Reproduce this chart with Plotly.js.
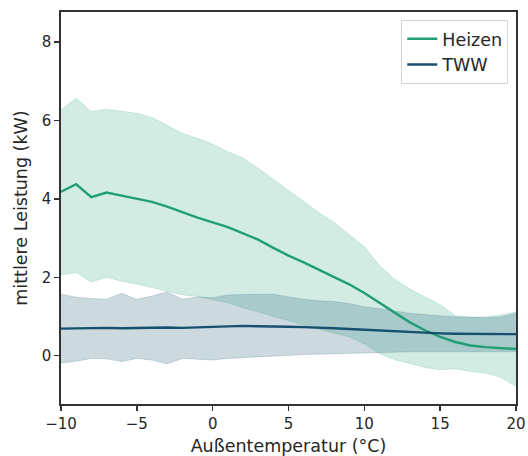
<!DOCTYPE html>
<html>
<head>
<meta charset="utf-8">
<script src="https://cdn.plot.ly/plotly-3.0.1.min.js"></script>
<style>html,body{margin:0;padding:0;background:#fff;}#chart{width:528px;height:456px;}</style>
</head>
<body>
<div id="chart"></div>
<script>
const temps = [-10,-9,-8,-7,-6,-5,-4,-3,-2,-1,0,1,2,3,4,5,6,7,8,9,10,11,12,13,14,15,16,17,18,19,20];
const heizenMean = [4.18,4.37,4.04,4.16,4.08,4.0,3.92,3.8,3.65,3.52,3.4,3.28,3.12,2.96,2.75,2.55,2.38,2.2,2.0,1.82,1.6,1.35,1.08,0.85,0.65,0.48,0.35,0.26,0.22,0.19,0.17];
const heizenUpper = [6.26,6.57,6.22,6.28,6.23,6.18,6.07,5.88,5.67,5.54,5.39,5.2,5.04,4.78,4.5,4.2,3.92,3.65,3.4,3.1,2.78,2.3,1.95,1.7,1.5,1.3,1.02,0.98,0.99,1.04,1.12];
const heizenLower = [2.06,2.12,1.88,2.0,1.9,1.83,1.74,1.64,1.55,1.51,1.43,1.35,1.22,1.12,1.0,0.9,0.78,0.68,0.58,0.48,0.3,0.05,-0.1,-0.2,-0.3,-0.36,-0.33,-0.4,-0.44,-0.55,-0.78];
const twwMean = [0.69,0.70,0.70,0.71,0.70,0.71,0.71,0.72,0.71,0.72,0.73,0.74,0.76,0.75,0.75,0.74,0.73,0.72,0.70,0.68,0.66,0.64,0.62,0.60,0.59,0.57,0.56,0.56,0.55,0.55,0.55];
const twwUpper = [1.57,1.49,1.46,1.44,1.59,1.44,1.52,1.63,1.44,1.50,1.48,1.55,1.56,1.57,1.57,1.50,1.44,1.40,1.38,1.33,1.25,1.20,1.14,1.08,1.05,1.02,0.99,0.98,0.97,0.99,1.08];
const twwLower = [-0.19,-0.14,-0.07,-0.08,-0.15,-0.07,-0.11,-0.21,-0.07,-0.09,-0.11,-0.07,-0.05,-0.03,0.0,0.02,0.03,0.04,0.05,0.07,0.08,0.09,0.1,0.1,0.1,0.1,0.1,0.1,0.1,0.1,0.1];

const heizColor = '#1f9e78';
const twwColor = '#17506f';
const font = 'DejaVu Sans, sans-serif';

const traces = [
  {x: temps, y: heizenUpper, mode: 'lines', line: {width: 0.8, color: 'rgba(31,158,120,0.22)'}, showlegend: false, hoverinfo: 'skip'},
  {x: temps, y: heizenLower, mode: 'lines', line: {width: 0.8, color: 'rgba(31,158,120,0.22)'}, fill: 'tonexty', fillcolor: 'rgba(31,158,120,0.2)', showlegend: false, hoverinfo: 'skip'},
  {x: temps, y: twwUpper, mode: 'lines', line: {width: 0.8, color: 'rgba(23,80,111,0.22)'}, showlegend: false, hoverinfo: 'skip'},
  {x: temps, y: twwLower, mode: 'lines', line: {width: 0.8, color: 'rgba(23,80,111,0.22)'}, fill: 'tonexty', fillcolor: 'rgba(23,80,111,0.22)', showlegend: false, hoverinfo: 'skip'},
  {x: temps, y: heizenMean, mode: 'lines', name: 'Heizen', line: {width: 2.4, color: heizColor}},
  {x: temps, y: twwMean, mode: 'lines', name: 'TWW', line: {width: 2.4, color: twwColor}}
];

const axisCommon = {
  showgrid: false, zeroline: false,
  showline: true, linecolor: '#333333', linewidth: 1.6, mirror: true,
  ticks: 'outside', ticklen: 5, tickwidth: 1.5, tickcolor: '#333333',
  tickfont: {family: font, size: 15, color: '#262626'}
};

const layout = {
  width: 528, height: 456,
  margin: {l: 61, r: 12, t: 12, b: 52},
  paper_bgcolor: '#fff', plot_bgcolor: '#fff',
  font: {family: font, color: '#262626'},
  xaxis: Object.assign({}, axisCommon, {
    range: [-10, 20], tickvals: [-10,-5,0,5,10,15,20],
    title: {text: 'Außentemperatur (°C)', font: {family: font, size: 17.5, color: '#262626'}, standoff: 10}
  }),
  yaxis: Object.assign({}, axisCommon, {
    range: [-1.23, 8.76], tickvals: [0,2,4,6,8],
    title: {text: 'mittlere Leistung (kW)', font: {family: font, size: 17.5, color: '#262626'}, standoff: 10}
  }),
  legend: {
    x: 0.983, y: 0.98, xanchor: 'right', yanchor: 'top',
    bgcolor: 'rgba(255,255,255,0.85)', bordercolor: '#d4d4d4', borderwidth: 1,
    font: {family: font, size: 17.5, color: '#262626'},
    traceorder: 'normal', tracegroupgap: 0
  },
  showlegend: true
};

Plotly.newPlot('chart', traces, layout, {displayModeBar: false, staticPlot: true});
</script>
</body>
</html>
